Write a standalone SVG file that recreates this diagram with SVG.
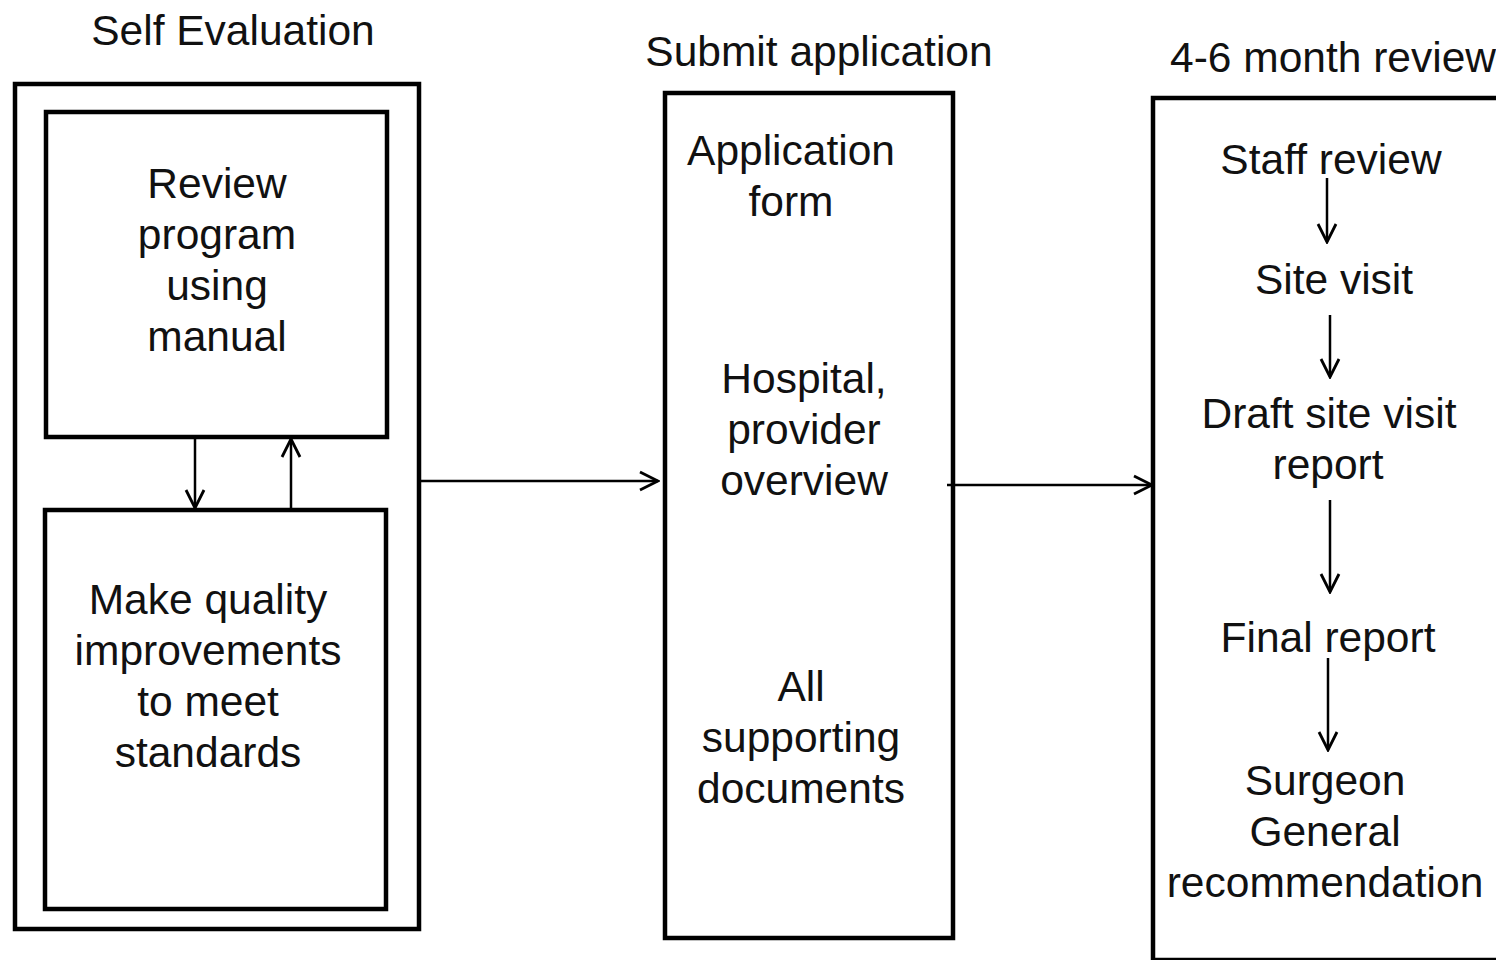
<svg xmlns="http://www.w3.org/2000/svg" width="1496" height="960" viewBox="0 0 1496 960">
<style>
.box{fill:none;stroke:#000;stroke-width:4.5}
.t{font-family:"Liberation Sans",Arial,sans-serif;font-size:42.5px;fill:#111;text-anchor:middle}
.c{stroke:#000;stroke-width:2.5;fill:none}
</style>
<defs>
<marker id="a" viewBox="0 0 24 24" refX="22" refY="12" markerWidth="24" markerHeight="24" markerUnits="userSpaceOnUse" orient="auto">
<path d="M4,3 L22,12 L4,21" fill="none" stroke="#000" stroke-width="2.8"/>
</marker>
</defs>
<rect width="1496" height="960" fill="#fff"/>
<g id="self-evaluation">
<text class="t" x="233" y="45">Self Evaluation</text>
<rect class="box" x="15" y="84" width="404" height="845"/>
</g>
<g id="review-program">
<rect class="box" x="46" y="112" width="341" height="325"/>
<text class="t" x="217" y="198">Review</text>
<text class="t" x="217" y="249">program</text>
<text class="t" x="217" y="300">using</text>
<text class="t" x="217" y="351">manual</text>
</g>
<g id="make-improvements">
<rect class="box" x="45" y="510" width="341" height="399"/>
<text class="t" x="208" y="614">Make quality</text>
<text class="t" x="208" y="665">improvements</text>
<text class="t" x="208" y="716">to meet</text>
<text class="t" x="208" y="767">standards</text>
</g>
<g id="submit-application">
<text class="t" x="819" y="66">Submit application</text>
<rect class="box" x="665" y="93" width="288" height="845"/>
<text class="t" x="791" y="165">Application</text>
<text class="t" x="791" y="216">form</text>
<text class="t" x="804" y="393">Hospital,</text>
<text class="t" x="804" y="444">provider</text>
<text class="t" x="804" y="495">overview</text>
<text class="t" x="801" y="701">All</text>
<text class="t" x="801" y="752">supporting</text>
<text class="t" x="801" y="803">documents</text>
</g>
<g id="month-review">
<text class="t" x="1333" y="72">4-6 month review</text>
<rect class="box" x="1153" y="98" width="360" height="862"/>
<text class="t" x="1331" y="174">Staff review</text>
<text class="t" x="1334" y="294">Site visit</text>
<text class="t" x="1329" y="428">Draft site visit</text>
<text class="t" x="1328" y="479">report</text>
<text class="t" x="1328" y="652">Final report</text>
<text class="t" x="1325" y="795">Surgeon</text>
<text class="t" x="1325" y="846">General</text>
<text class="t" x="1325" y="897">recommendation</text>
</g>
<g id="connectors">
<line class="c" x1="195" y1="439" x2="195" y2="508" marker-end="url(#a)"/>
<line class="c" x1="291" y1="508" x2="291" y2="439" marker-end="url(#a)"/>
<line class="c" x1="421" y1="481" x2="658" y2="481" marker-end="url(#a)"/>
<line class="c" x1="947" y1="485" x2="1152" y2="485" marker-end="url(#a)"/>
<line class="c" x1="1327" y1="178" x2="1327" y2="242" marker-end="url(#a)"/>
<line class="c" x1="1330" y1="315" x2="1330" y2="377" marker-end="url(#a)"/>
<line class="c" x1="1330" y1="500" x2="1330" y2="592" marker-end="url(#a)"/>
<line class="c" x1="1328" y1="658" x2="1328" y2="750" marker-end="url(#a)"/>
</g>
</svg>
